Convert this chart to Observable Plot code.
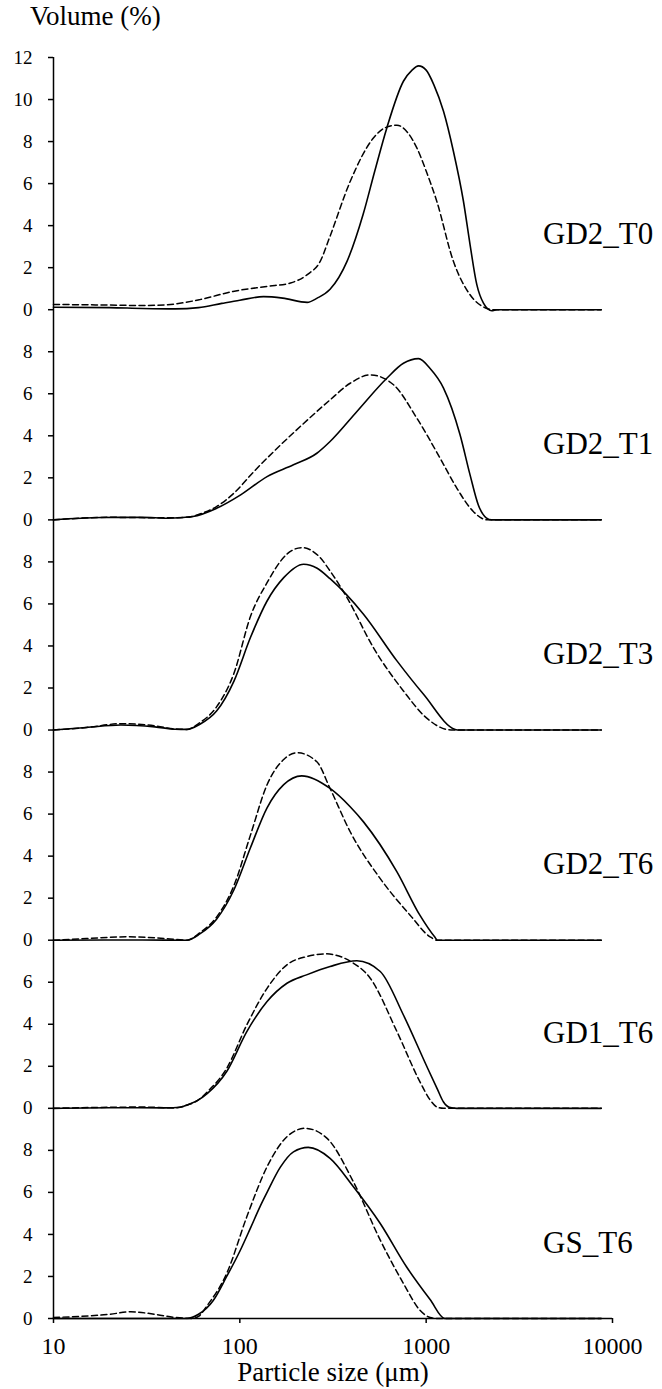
<!DOCTYPE html>
<html>
<head>
<meta charset="utf-8">
<script src="https://cdn.jsdelivr.net/npm/d3@7"></script>
<script src="https://cdn.jsdelivr.net/npm/@observablehq/plot@0.6"></script>
<style>
  body { margin: 0; background: #fff; font-family: "Liberation Serif", "Times New Roman", serif; }
  #title { position: relative; height: 40px; }
  #title span { position: absolute; left: 30px; top: 3px; font-size: 27px; line-height: 1; color: #000; }
  #chart svg { display: block; }
</style>
</head>
<body>
<div id="title"><span>Volume (%)</span></div>
<div id="chart"></div>
<script>
// ---- data (particle size µm, volume %) ----
const panels = ["GD2_T0", "GD2_T1", "GD2_T3", "GD2_T6", "GD1_T6", "GS_T6"];
const panelSpan = [12, 10, 10, 10, 8, 10];   // y extent of each stacked panel
const tickMax = [12, 8, 8, 8, 6, 8];         // highest labelled tick in each panel
const xTicks = [10, 100, 1000, 10000];
const labelPos = [4240, 3.6];                // panel label anchor (size, volume)

const GD2_T0_solid = [[10,0.12],[20,0.1],[30,0.06],[45,0.04],[60,0.1],[80,0.3],[100,0.45],[134,0.62],[170,0.55],[230,0.35],[260,0.55],[305,0.97],[376,2.3],[459,4.54],[530,6.6],[615,8.65],[755,10.87],[840,11.4],[910,11.6],[1000,11.4],[1100,10.7],[1239,9.44],[1400,7.54],[1585,5.16],[1720,3.1],[1870,1.19],[2030,0.31],[2250,-0.05],[2400,0],[8700,0]];
const GD2_T0_dashed = [[10,0.25],[20,0.22],[30,0.2],[41,0.24],[61,0.48],[92,0.87],[140,1.11],[187,1.27],[230,1.67],[270,2.3],[305,3.5],[391,6.1],[521,8.17],[600,8.65],[697,8.78],[800,8.4],[891,7.7],[1000,6.6],[1140,5.16],[1400,2.3],[1720,0.71],[2085,0.08],[2300,0],[8700,0]];

const GD2_T1_solid = [[10,0],[18,0.11],[30,0.12],[41,0.08],[56,0.16],[75,0.55],[101,1.19],[140,2.06],[194,2.62],[259,3.17],[305,3.73],[425,5.16],[615,6.74],[755,7.45],[910,7.67],[1050,7.2],[1239,6.27],[1520,4.05],[1720,2.14],[1905,0.71],[2100,0.1],[2250,0],[8700,0]];
const GD2_T1_dashed = [[10,0],[20,0.12],[40,0.1],[52,0.12],[61,0.28],[75,0.63],[93,1.27],[119,2.3],[152,3.25],[211,4.44],[305,5.71],[391,6.5],[501,6.9],[668,6.43],[891,4.84],[1189,2.93],[1462,1.5],[1790,0.4],[2120,0],[8700,0]];

const GD2_T3_solid = [[10,0],[15,0.12],[23,0.24],[35,0.15],[45,0.04],[52,0.03],[61,0.27],[75,0.9],[93,2.33],[114,4.4],[140,6.14],[172,7.25],[220,7.89],[260,7.7],[305,7.2],[461,5.51],[697,3.29],[968,1.7],[1432,0.03],[1500,0],[8700,0]];
const GD2_T3_dashed = [[10,0],[15,0.12],[23,0.3],[35,0.2],[45,0.05],[52,0.03],[61,0.35],[75,1.1],[93,2.7],[114,5.4],[140,7.01],[179,8.37],[215,8.68],[270,8.2],[305,7.57],[376,6.3],[521,3.92],[755,1.86],[1000,0.59],[1285,0.03],[1400,0],[8700,0]];

const GD2_T6_solid = [[10,0],[30,0.01],[52,0],[61,0.3],[75,1.0],[93,2.4],[114,4.4],[140,6.3],[172,7.4],[215,7.82],[305,7.22],[391,6.35],[461,5.63],[697,3.25],[925,1.19],[1110,0.16],[1150,0],[8700,0]];
const GD2_T6_dashed = [[10,0],[15,0.08],[25,0.16],[40,0.08],[52,0],[61,0.35],[75,1.1],[93,2.6],[114,5.0],[140,7.4],[172,8.6],[203,8.92],[259,8.49],[305,7.22],[391,5.16],[567,2.93],[820,1.19],[1050,0.16],[1150,0],[8700,0]];

const GD1_T6_solid = [[10,0],[20,0.03],[40,0.02],[48,0.05],[52,0.16],[60,0.4],[67,0.71],[85,1.75],[109,3.65],[140,5.08],[179,5.95],[228,6.35],[305,6.75],[425,7.02],[567,6.51],[755,4.44],[1000,2.06],[1150,0.9],[1239,0.3],[1330,0.05],[1460,0],[8700,0]];
const GD1_T6_dashed = [[10,0],[20,0.05],[30,0.06],[45,0.02],[52,0.15],[60,0.4],[67,0.79],[85,1.9],[109,3.97],[140,5.71],[179,6.83],[228,7.22],[290,7.35],[391,7.0],[501,6.19],[697,3.65],[925,1.27],[1050,0.4],[1150,0.05],[1239,0],[8700,0]];

const GS_T6_solid = [[10,0],[30,0],[52,0],[60,0.2],[72,0.86],[85,2.0],[100,3.2],[114,4.3],[128,5.3],[140,6.0],[165,7.2],[194,7.93],[233,8.14],[305,7.62],[407,6.27],[567,4.52],[784,2.46],[1050,0.9],[1260,0],[8700,0]];
const GS_T6_dashed = [[10,0.05],[20,0.2],[26,0.32],[35,0.2],[45,0.05],[55,0],[60,0.1],[67,0.63],[85,2.14],[109,4.84],[140,7.22],[179,8.65],[224,9.05],[294,8.57],[407,6.5],[567,3.73],[755,1.67],[925,0.4],[1050,0.05],[1150,0],[8700,0]];

const solidSeries = [GD2_T0_solid, GD2_T1_solid, GD2_T3_solid, GD2_T6_solid, GD1_T6_solid, GS_T6_solid];
const dashedSeries = [GD2_T0_dashed, GD2_T1_dashed, GD2_T3_dashed, GD2_T6_dashed, GD1_T6_dashed, GS_T6_dashed];

// ---- build stacked layout ----
const bases = panels.map((_, i) => d3.sum(panelSpan.slice(i + 1)));
const yTop = d3.sum(panelSpan);

const rows = [];
panels.forEach((p, i) => {
  solidSeries[i].forEach(([s, v]) => rows.push({panel: p, kind: "solid", size: s, y: bases[i] + v}));
  dashedSeries[i].forEach(([s, v]) => rows.push({panel: p, kind: "dashed", size: s, y: bases[i] + v}));
});

const yTickVals = [];
const yTickLabel = new Map();
panels.forEach((p, i) => {
  for (let v = 0; v <= tickMax[i]; v += 2) {
    yTickVals.push(bases[i] + v);
    yTickLabel.set(bases[i] + v, String(v));
  }
});

const labels = panels.map((p, i) => ({name: p, size: labelPos[0], y: bases[i] + labelPos[1]}));

const chart = Plot.plot({
  width: 662,
  height: 1349,
  marginTop: 17,
  marginBottom: 71,
  marginLeft: 53,
  marginRight: 50,
  style: {fontFamily: "'Liberation Serif', 'Times New Roman', serif", fontSize: "19px", color: "#000", background: "#fff"},
  x: {type: "log", domain: [10, 10000]},
  y: {domain: [0, yTop]},
  marks: [
    Plot.axisY({ticks: yTickVals, tickFormat: d => yTickLabel.get(d), tickSize: 5, tickPadding: 16, fontSize: 19, label: null, strokeWidth: 1.5}),
    Plot.axisX({ticks: xTicks, tickFormat: d => String(d), tickSize: 5, tickPadding: 13, fontSize: 24, label: null, strokeWidth: 1.5}),
    Plot.ruleX([10], {y1: 0, y2: yTop, stroke: "#000", strokeWidth: 1.5}),
    Plot.ruleY([0], {x1: 10, x2: 10000, stroke: "#000", strokeWidth: 1.5}),
    Plot.line(rows.filter(d => d.kind === "dashed"), {x: "size", y: "y", z: "panel", stroke: "#000", strokeWidth: 1.5, strokeDasharray: "6,3.5", curve: "monotone-x"}),
    Plot.line(rows.filter(d => d.kind === "solid"), {x: "size", y: "y", z: "panel", stroke: "#000", strokeWidth: 1.6, curve: "monotone-x"}),
    Plot.text(labels, {x: "size", y: "y", text: "name", textAnchor: "start", fontSize: 31, fill: "#000"}),
    Plot.text(["Particle size (\u03bcm)"], {frameAnchor: "bottom", dy: 62, text: d => d, fontSize: 27, fill: "#000"})
  ]
});
document.getElementById("chart").appendChild(chart);
</script>
</body>
</html>
